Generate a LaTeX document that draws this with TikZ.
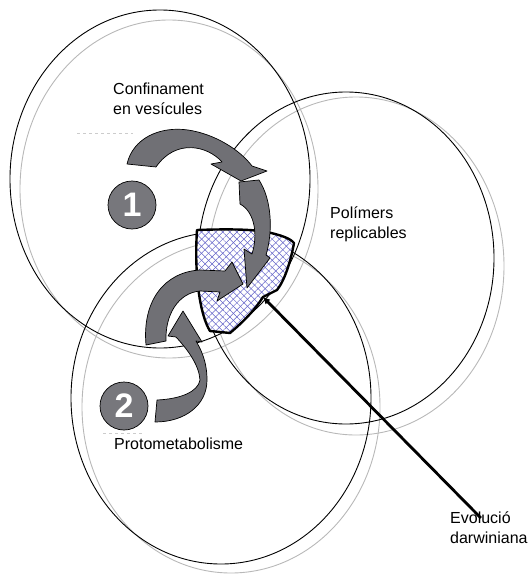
\documentclass[tikz,border=0pt]{standalone}
\usepackage{fontspec}
\setmainfont{Liberation Sans}
\usetikzlibrary{patterns.meta,arrows.meta}
\definecolor{arrowgray}{HTML}{707075}
\definecolor{discgray}{HTML}{77777C}
\definecolor{hatchblue}{HTML}{6262C8}
\tikzset{
  ring/.style={draw=black,line width=0.9pt},
  shadowring/.style={draw=black!28,line width=0.9pt},
  bentarrow/.style={draw=black,line width=0.7pt,fill=arrowgray,line join=round},
  disc/.style={circle,draw=black,line width=0.7pt,fill=discgray,text=white,
    minimum size=48pt,inner sep=0pt,font=\fontsize{34}{34}\selectfont\bfseries},
  label/.style={align=left,inner sep=0pt,font=\fontsize{16}{20}\selectfont},
  ghost/.style={draw=black!20,dashed,line width=0.6pt}
}
\begin{document}
\begin{tikzpicture}[x=1pt,y=-1pt]
      \useasboundingbox (0,0) rectangle (529,575);
      % offset grey copies of the three circles
      \draw[shadowring] (169,189) ellipse [x radius=149,y radius=169];
      \draw[shadowring] (356,266) ellipse [x radius=148,y radius=169];
      \draw[shadowring] (231,407) ellipse [x radius=149,y radius=166];
      \draw[ring] (160,179) ellipse [x radius=150,y radius=169];
      \draw[ring] (346,258) ellipse [x radius=148,y radius=166];
      \draw[ring] (221,398) ellipse [x radius=150,y radius=166];
      \draw[ghost] (77,133) -- (133,133);
      \draw[ghost] (103,433) -- (142,433);
      % common zone
      \path[fill=white] (197,230) .. controls (225,229) and (250,229) .. (267,232)
        .. controls (280,235) and (290,238) .. (294,243)
        .. controls (291,260) and (285,280) .. (277,290) -- (267,295) -- (263,297)
        .. controls (255,310) and (243,322) .. (230,333) -- (210,331)
        .. controls (200,315) and (194,275) .. (197,230) -- cycle;
      \foreach \a in {45,-45}
        \path[pattern={Lines[angle=\a,distance=5pt,line width=0.5pt]},pattern color=hatchblue]
          (197,230) .. controls (225,229) and (250,229) .. (267,232)
          .. controls (280,235) and (290,238) .. (294,243)
          .. controls (291,260) and (285,280) .. (277,290) -- (267,295) -- (263,297)
          .. controls (255,310) and (243,322) .. (230,333) -- (210,331)
          .. controls (200,315) and (194,275) .. (197,230) -- cycle;
      \draw[line width=2.4pt,line join=round] (197,230) .. controls (225,229) and (250,229) .. (267,232)
        .. controls (280,235) and (290,238) .. (294,243)
        .. controls (291,260) and (285,280) .. (277,290) -- (267,295) -- (263,297)
        .. controls (255,310) and (243,322) .. (230,333) -- (210,331)
        .. controls (200,315) and (194,275) .. (197,230) -- cycle;
      \coordinate (evo) at (263,297);
      % curved arrows
      \draw[bentarrow] (127,164) .. controls (133,138) and (160,126) .. (188,130)
        .. controls (215,134) and (240,150) .. (252,166) -- (267,171) -- (241,181)
        -- (211,164) -- (222,162) .. controls (208,146) and (176,138) .. (156,167) -- cycle;
      \draw[bentarrow] (239,182) -- (259,180) .. controls (272,200) and (273,232) .. (266,255)
        -- (270,258) -- (247,288) -- (244,249) -- (252,254)
        .. controls (258,235) and (255,212) .. (240,204) -- cycle;
      \draw[bentarrow] (146,345) .. controls (142,300) and (165,272) .. (200,270) -- (225,271)
        -- (232,262) -- (243,284) -- (217,301) -- (220,292) -- (200,291)
        .. controls (178,293) and (165,315) .. (166,341) -- cycle;
      \draw[bentarrow] (157,400) -- (155,422) .. controls (185,422) and (207,405) .. (207,380)
        .. controls (207,360) and (200,348) .. (196,341) -- (202,342) -- (183,311)
        -- (168,336) -- (176,337) .. controls (188,350) and (199,365) .. (200,380)
        .. controls (198,392) and (180,399) .. (157,400) -- cycle;
      % numbered discs
      \node[disc] (one) at (132,205) {1};
      \node[disc] (two) at (124,406) {2};
      % labels
      \node[label,anchor=north west] (vesi) at (113,83) {Confinament\\en vesícules};
      \node[label,anchor=north west] (poly) at (330,207) {Polímers\\replicables};
      \node[label,anchor=north west] (meta) at (114,438) {Protometabolisme};
      \node[label,anchor=north west] (darw) at (450,512) {Evolució\\darwiniana};
      \draw[line width=2.8pt,-{Latex[length=7pt,width=7pt]}] ([xshift=-8pt,yshift=-6pt]darw.north) -- (evo);
    \end{tikzpicture}
\end{document}
